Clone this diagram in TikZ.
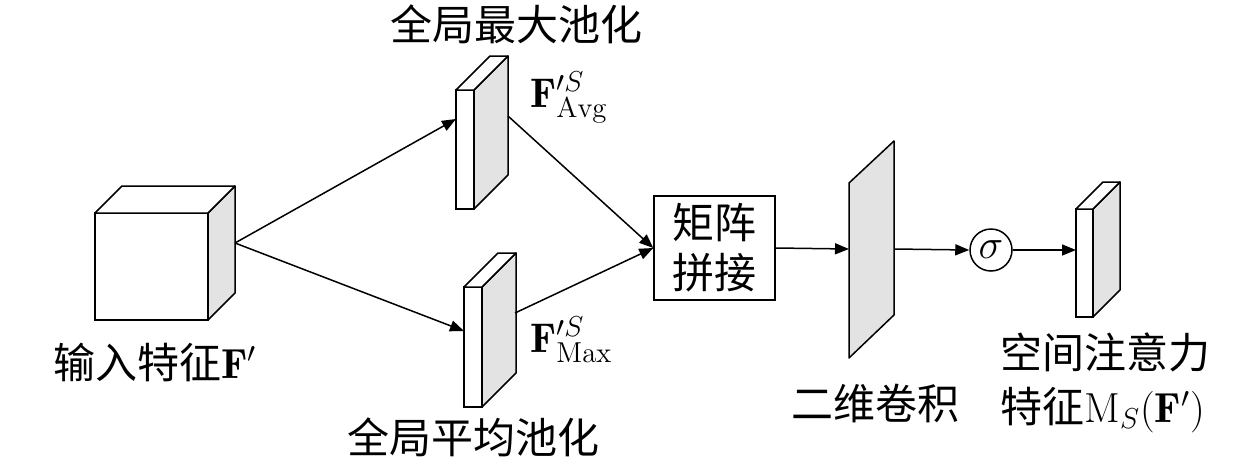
\documentclass[tikz,border=0pt]{standalone}
\usepackage{fontspec}
\newfontfamily\cjk{Noto Sans CJK SC}
\usetikzlibrary{arrows.meta,calc}
\definecolor{sidegray}{RGB}{227,227,227}
\tikzset{
 face/.style={draw, fill=white, line width=0.75pt, outer sep=0pt, inner sep=0pt},
 side/.style={draw, fill=sidegray, line width=0.75pt, line join=round},
 topf/.style={draw, fill=white, line width=0.75pt, line join=round},
 conn/.style={line width=0.75pt, -{Triangle[length=7pt,width=5.5pt]}},
 lbl/.style={font=\huge\cjk\fontsize{21}{27}\selectfont, inner sep=0pt},
 mlbl/.style={font=\huge, inner sep=0pt},
}
\newcommand{\myslab}[6]{%
 \node[face, minimum width={#4*0.5pt}, minimum height={#5*0.5pt}] (#1) at (#2,#3) {};
 \draw[side] (#1.north east) -- ++(#6,-#6) -- ++(0,#5) -- (#1.south east) -- cycle;
 \draw[topf] (#1.north west) -- ++(#6,-#6) -- ++(#4,0) -- (#1.north east) -- cycle;
}
\begin{document}
\begin{tikzpicture}[x=0.5pt,y=-0.5pt]
\useasboundingbox (0,0) rectangle (1260,461);
% input cube
\myslab{cube}{151.5}{266.5}{113}{107}{27}
% pooled slabs
\myslab{avg}{465}{149.5}{18}{119}{34}
\myslab{max}{473}{347}{18}{120}{34}
% output slab
\myslab{out}{1084.5}{263}{17}{108}{27}
% conv plane
\coordinate (c1) at (849,183);
\coordinate (c2) at (894,141);
\coordinate (c3) at (894,315);
\coordinate (c4) at (849,358);
\draw[side] (c1) -- (c2) -- (c3) -- (c4) -- cycle;
\coordinate (convL) at (849,249);
\coordinate (convR) at (894,249);
% concat box
\node[draw, line width=0.75pt, minimum width=60.5pt, minimum height=52pt, inner sep=0pt,
      font=\cjk\fontsize{21}{25}\selectfont, align=center] (cat) at (714.5,248) {矩阵\\拼接};
% sigma
\node[draw, circle, minimum size=21pt, inner sep=0pt, line width=0.75pt, mlbl] (sig) at (991,250) {$\sigma$};
% connector points
\coordinate (cubeout) at (235,243);
\coordinate (avgin) at (456,119);
\coordinate (maxin) at (464,331);
\coordinate (avgout) at (508,116);
\coordinate (maxout) at (515,313);
\coordinate (outin) at (1076,250);
% connectors
\draw[conn] (cubeout) -- (avgin);
\draw[conn] (cubeout) -- (maxin);
\draw[conn] (avgout) -- (cat.west);
\draw[conn] (maxout) -- (cat.west);
\draw[conn] (cat.east) -- (convL);
\draw[conn] (convR) -- (sig.west);
\draw[conn] (sig.east) -- (outin);
% labels
\node[lbl] (tmax) at (516,24) {全局最大池化};
\node[lbl] (tavg) at (473,437) {全局平均池化};
\node[lbl] (tin) at (155,362) {输入特征$\mathbf{F}'$};
\node[lbl] (tconv) at (875,403) {二维卷积};
\node[lbl, anchor=west, align=left] (tout) at (1000,383) {空间注意力\\特征$\mathrm{M}_S(\mathbf{F}')$};
\node[mlbl, anchor=base west] (favg) at (530,107) {$\mathbf{F}^{\prime S}_{\mathrm{Avg}}$};
\node[mlbl, anchor=base west] (fmax) at (530,352) {$\mathbf{F}^{\prime S}_{\mathrm{Max}}$};
\end{tikzpicture}
\end{document}
